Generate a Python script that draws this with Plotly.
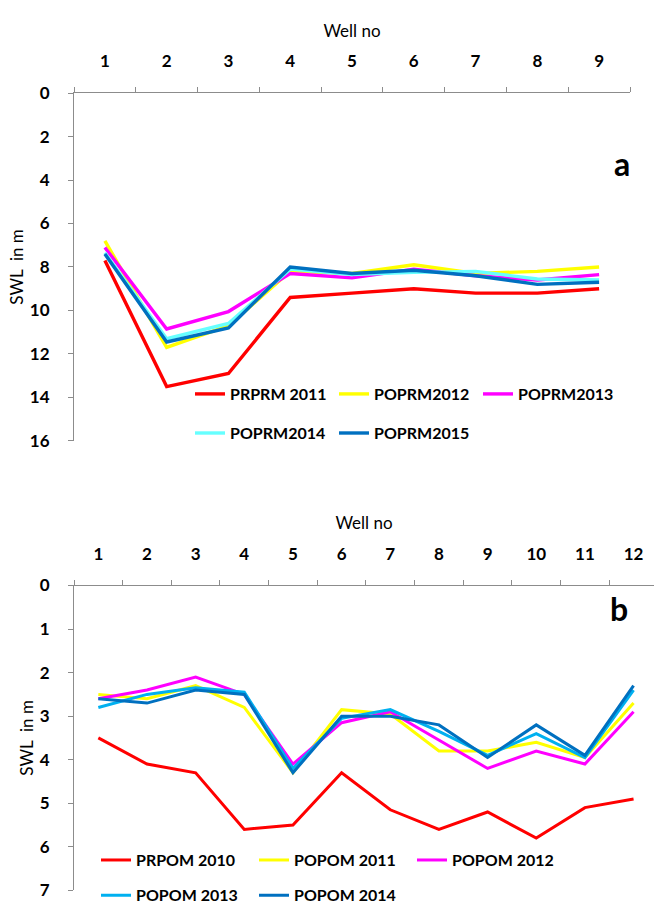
import plotly.graph_objects as go

# ---------------- data ----------------
wells_a = ["1", "2", "3", "4", "5", "6", "7", "8", "9"]
names_a = ["PRPRM 2011", "POPRM2012", "POPRM2013", "POPRM2014", "POPRM2015"]
prprm_2011 = [7.7, 13.5, 12.9, 9.4, 9.2, 9.0, 9.2, 9.2, 9.0]
poprm_2012 = [6.8, 11.7, 10.7, 8.2, 8.3, 7.9, 8.3, 8.2, 8.0]
poprm_2013 = [7.1, 10.85, 10.05, 8.3, 8.5, 8.1, 8.4, 8.6, 8.35]
poprm_2014 = [7.35, 11.3, 10.6, 8.1, 8.35, 8.25, 8.2, 8.55, 8.6]
poprm_2015 = [7.4, 11.45, 10.8, 8.0, 8.3, 8.15, 8.4, 8.8, 8.7]
series_a = [prprm_2011, poprm_2012, poprm_2013, poprm_2014, poprm_2015]
yticks_a = [0, 2, 4, 6, 8, 10, 12, 14, 16]

wells_b = ["1", "2", "3", "4", "5", "6", "7", "8", "9", "10", "11", "12"]
names_b = ["PRPOM 2010", "POPOM 2011", "POPOM 2012", "POPOM 2013", "POPOM 2014"]
prpom_2010 = [3.5, 4.1, 4.3, 5.6, 5.5, 4.3, 5.15, 5.6, 5.2, 5.8, 5.1, 4.9]
popom_2011 = [2.5, 2.6, 2.3, 2.8, 4.3, 2.85, 2.95, 3.8, 3.8, 3.6, 3.95, 2.7]
popom_2012 = [2.6, 2.4, 2.1, 2.5, 4.1, 3.15, 2.9, 3.55, 4.2, 3.8, 4.1, 2.9]
popom_2013 = [2.8, 2.5, 2.35, 2.45, 4.2, 3.05, 2.85, 3.35, 3.9, 3.4, 3.95, 2.4]
popom_2014 = [2.6, 2.7, 2.4, 2.5, 4.3, 3.0, 3.0, 3.2, 3.95, 3.2, 3.9, 2.3]
series_b = [prpom_2010, popom_2011, popom_2012, popom_2013, popom_2014]
yticks_b = [0, 1, 2, 3, 4, 5, 6, 7]

# ---------------- style ----------------
colors_a = ["#FF0000", "#FFFF00", "#FF00FF", "#66FFFF", "#0070C0"]
colors_b = ["#FF0000", "#FFFF00", "#FF00FF", "#00B0F0", "#0070C0"]
legends_a = ["legend", "legend", "legend", "legend2", "legend2"]
legends_b = ["legend3", "legend3", "legend3", "legend4", "legend4"]

W, H = 654, 916
FONT = "Lato, 'Open Sans', sans-serif"
AX_COL = "#8C8C8C"

fig = go.Figure()

for name, vals, col, lg in zip(names_a, series_a, colors_a, legends_a):
    fig.add_trace(go.Scatter(x=wells_a, y=vals, name=name, mode="lines",
                             line=dict(color=col, width=3.4),
                             xaxis="x", yaxis="y", legend=lg))

for name, vals, col, lg in zip(names_b, series_b, colors_b, legends_b):
    fig.add_trace(go.Scatter(x=wells_b, y=vals, name=name, mode="lines",
                             line=dict(color=col, width=3),
                             xaxis="x2", yaxis="y2", legend=lg))

def px_x(p):
    return p / W

def px_y(p):
    return 1 - p / H

tickfont = dict(family=FONT, size=17, color="#000000", weight="bold")
titlefont = dict(family=FONT, size=17, color="#000000")

common_x = dict(type="category", side="top", tickson="boundaries", ticks="outside",
                ticklen=5, tickcolor=AX_COL, showline=True, linecolor=AX_COL,
                linewidth=1, showgrid=False, zeroline=False, tickfont=tickfont,
                ticklabelstandoff=18,
                title=dict(text="Well no", font=titlefont, standoff=8))
common_y = dict(ticks="outside", ticklen=5, tickcolor=AX_COL, showline=True,
                linecolor=AX_COL, linewidth=1, showgrid=False, zeroline=False,
                tickfont=tickfont, ticklabelstandoff=15,
                title=dict(text="SWL  in m", font=titlefont, standoff=1))

fig.update_layout(
    width=W, height=H,
    margin=dict(l=0, r=0, t=0, b=0),
    paper_bgcolor="white", plot_bgcolor="white",
    font=dict(family=FONT),
    xaxis=dict(common_x, domain=[px_x(74), px_x(630)], anchor="y",
               range=[-0.5, 8.5]),
    yaxis=dict(common_y, domain=[px_y(440), px_y(84)], anchor="x",
               range=[16, 0], tickvals=yticks_a),
    xaxis2=dict(common_x, domain=[px_x(74), 1.0], anchor="y2",
                range=[-0.5, 11.42]),
    yaxis2=dict(common_y, domain=[px_y(900), px_y(588)], anchor="x2",
                range=[7, 0], tickvals=yticks_b),
    showlegend=True,
)

legfont = dict(family=FONT, size=16, color="#000000", weight="bold")
def leg(x, y, ew):
    return dict(x=x, y=y, xref="paper", yref="paper", xanchor="left",
                yanchor="middle", orientation="h", font=legfont,
                bgcolor="rgba(0,0,0,0)", entrywidth=ew, entrywidthmode="pixels",
                itemwidth=30, tracegroupgap=0)

fig.update_layout(
    legend=leg(px_x(190), px_y(392), 99),
    legend2=leg(px_x(190), px_y(432), 99),
    legend3=leg(px_x(96), px_y(869), 113),
    legend4=leg(px_x(96), px_y(905), 113),
)

fig.add_annotation(text="<b>a</b>", x=px_x(632), y=px_y(134), xref="paper", yref="paper",
                   showarrow=False, font=dict(family=FONT, size=32, color="#000000"))
fig.add_annotation(text="<b>b</b>", x=px_x(630), y=px_y(634), xref="paper", yref="paper",
                   showarrow=False, font=dict(family=FONT, size=32, color="#000000"))

fig.write_html("out.html", config={"displayModeBar": False},
               post_script="document.body.style.margin='0';")
